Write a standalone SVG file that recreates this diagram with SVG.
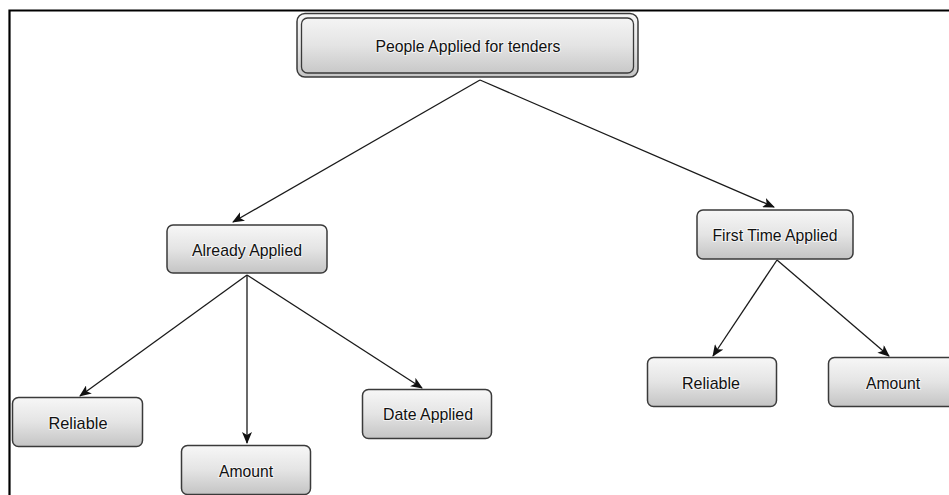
<svg xmlns="http://www.w3.org/2000/svg" width="949" height="495" viewBox="0 0 949 495">
<defs>
<linearGradient id="g" x1="0" y1="0" x2="0" y2="1">
<stop offset="0" stop-color="#f7f7f7"/>
<stop offset="0.5" stop-color="#e4e4e4"/>
<stop offset="1" stop-color="#c4c4c4"/>
</linearGradient>
<marker id="arr" viewBox="0 0 12 10" refX="11" refY="5" markerWidth="12" markerHeight="10" markerUnits="userSpaceOnUse" orient="auto">
<path d="M0,0 L12,5 L0,10 L3,5 Z" fill="#111"/>
</marker>
</defs>
<style>
.box{fill:url(#g);stroke:#3a3a3a;stroke-width:1.5}
.inner{fill:none;stroke:#3a3a3a;stroke-width:1.3}
.t{font-family:"Liberation Sans",Arial,sans-serif;font-size:17px;fill:#111;text-anchor:middle;stroke:#ffffff;stroke-width:2.2;stroke-opacity:0.6;paint-order:stroke}
.c{stroke:#1a1a1a;stroke-width:1.3;fill:none;marker-end:url(#arr)}
.frame{stroke:#000;stroke-width:2.2;fill:none}
</style>
<rect width="949" height="495" fill="#fff"/>
<path class="frame" d="M9.5,495 V10.5 H949"/>
<g id="connectors">
<line class="c" x1="480" y1="80" x2="233" y2="222"/>
<line class="c" x1="480" y1="80" x2="774" y2="207"/>
<line class="c" x1="247" y1="275" x2="80" y2="396"/>
<line class="c" x1="247" y1="275" x2="247" y2="443"/>
<line class="c" x1="247" y1="275" x2="422" y2="388"/>
<line class="c" x1="777" y1="260" x2="713" y2="356"/>
<line class="c" x1="777" y1="260" x2="889" y2="356"/>
</g>
<g id="n-root">
<rect class="box" x="297" y="13.5" width="341" height="63.5" rx="8"/>
<rect class="inner" x="301.5" y="18" width="332" height="55" rx="6"/>
<text class="t" x="468" y="52" textLength="185" lengthAdjust="spacingAndGlyphs">People Applied for tenders</text>
</g>
<g id="n-already">
<rect class="box" x="167" y="225" width="160" height="48" rx="6"/>
<text class="t" x="247" y="256" textLength="110" lengthAdjust="spacingAndGlyphs">Already Applied</text>
</g>
<g id="n-first">
<rect class="box" x="697" y="210" width="156" height="49" rx="6"/>
<text class="t" x="775" y="241" textLength="125" lengthAdjust="spacingAndGlyphs">First Time Applied</text>
</g>
<g id="n-reliable1">
<rect class="box" x="12.5" y="397.5" width="130" height="49" rx="6"/>
<text class="t" x="78" y="429" textLength="59" lengthAdjust="spacingAndGlyphs">Reliable</text>
</g>
<g id="n-amount1">
<rect class="box" x="181.5" y="445.5" width="129" height="49" rx="6"/>
<text class="t" x="246" y="477" textLength="54" lengthAdjust="spacingAndGlyphs">Amount</text>
</g>
<g id="n-date">
<rect class="box" x="362.5" y="389.5" width="129" height="49" rx="6"/>
<text class="t" x="428" y="420" textLength="90" lengthAdjust="spacingAndGlyphs">Date Applied</text>
</g>
<g id="n-reliable2">
<rect class="box" x="647.5" y="357.5" width="129" height="49" rx="6"/>
<text class="t" x="711" y="389" textLength="58" lengthAdjust="spacingAndGlyphs">Reliable</text>
</g>
<g id="n-amount2">
<rect class="box" x="828.5" y="357.5" width="130" height="49" rx="6"/>
<text class="t" x="893" y="389" textLength="54" lengthAdjust="spacingAndGlyphs">Amount</text>
</g>
</svg>
